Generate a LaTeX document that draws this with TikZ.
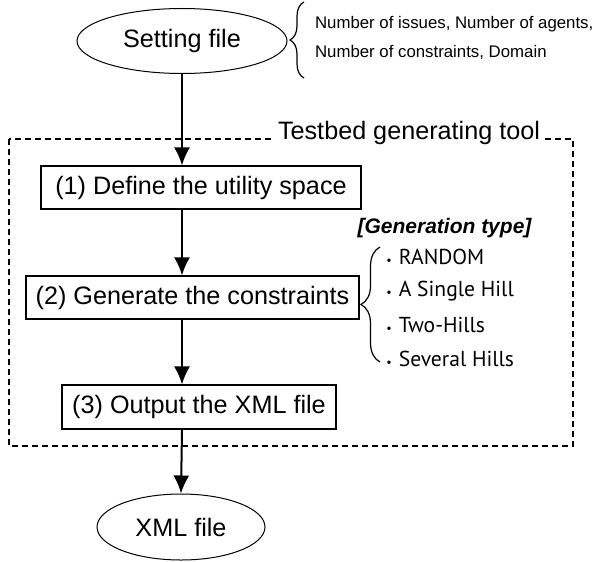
\documentclass[tikz,border=0pt]{standalone}
\usepackage{fontspec}
\setmainfont{Liberation Sans}
\newfontfamily\listfont{PT Sans}
\usetikzlibrary{arrows.meta,positioning,shapes.geometric,decorations.pathreplacing}

\begin{document}
\begin{tikzpicture}[x=0.5pt,y=-0.5pt,>={Latex[length=9pt,width=8pt]},every node/.style={align=center},
    file/.style={draw,ellipse,line width=0.5pt,inner sep=0pt,font=\fontsize{12.6}{15}\selectfont},
    stagebox/.style={draw,line width=0.55pt,inner sep=0pt,font=\fontsize{12.6}{15}\selectfont},
    flow/.style={->,line width=1pt},
    curly/.style={decorate,decoration={brace,amplitude=#1},line width=0.6pt}]
    \useasboundingbox (0,0) rectangle (592,561);
    % tool frame
    \draw[line width=0.8pt,dash pattern=on 3pt off 2pt] (9,139) rectangle (573,446);
    \node[fill=white,inner xsep=2pt,inner ysep=1pt,font=\fontsize{12.6}{15}\selectfont] (tool) at (409,133) {Testbed generating tool};
    % flow
    \node[file,minimum width=105pt,minimum height=32.5pt] (set) at (182,41) {Setting file};
    \node[stagebox,minimum width=160pt,minimum height=21.5pt] (def) at (201,187.5) {(1) Define the utility space};
    \node[stagebox,minimum width=166.5pt,minimum height=21.5pt] (gen) at (192.5,297.5) {(2) Generate the constraints};
    \node[stagebox,minimum width=137pt,minimum height=22pt] (out) at (199,407) {(3) Output the XML file};
    \node[file,minimum width=84pt,minimum height=33pt] (xml) at (181,527) {XML file};
    \draw[flow] (set.south) -- (set.south |- def.north);
    \draw[flow] (set.south |- def.south) -- (set.south |- gen.north);
    \draw[flow] (set.south |- gen.south) -- (set.south |- out.north);
    \draw[flow] (set.south |- out.south) -- (xml.north);
    % settings
    \draw[curly=7pt] (304,78) -- (304,2);
    \node[anchor=west,align=left,font=\fontsize{8.4}{14.5}\selectfont] (param) at (308,37.5) {Number of issues, Number of agents,\\Number of constraints, Domain};
    % generation types
    \node[font=\fontsize{10.5}{12}\selectfont\bfseries\itshape] (gtype) at (444.5,228) {[Generation type]};
    \draw[curly=9.5pt] (380,362) -- (380,247);
    \foreach \y/\t [count=\i] in {257/RANDOM,291/A Single Hill,325/Two-Hills,359/Several Hills}
      \node[anchor=west,inner xsep=0pt,font=\listfont\fontsize{10.8}{12}\selectfont] (type\i) at (386,\y) {{\fontsize{6}{7}\selectfont •}\hspace{3.5pt}\t};
\end{tikzpicture}
\end{document}
